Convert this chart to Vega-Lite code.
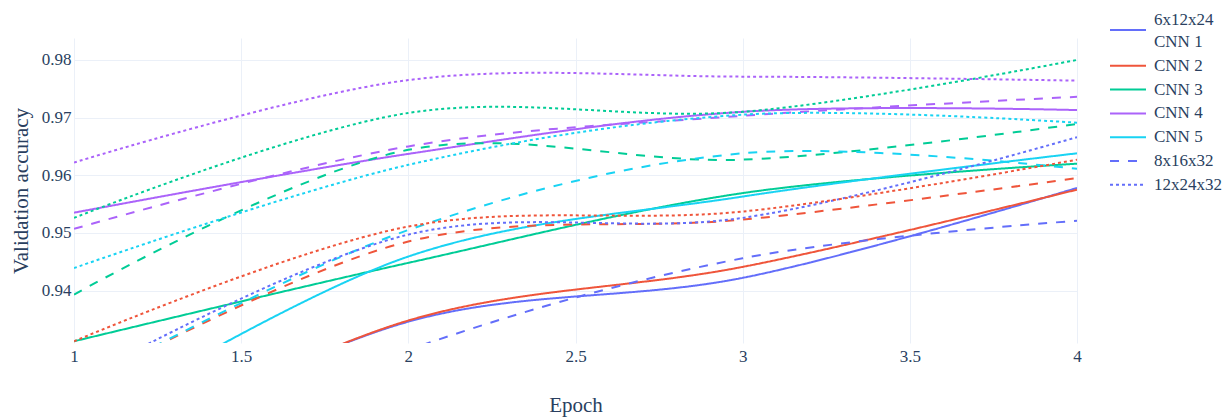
{
  "$schema": "https://vega.github.io/schema/vega-lite/v6.json",
  "autosize": "none",
  "width": 1003,
  "height": 305,
  "padding": {"left": 74, "top": 38, "right": 147, "bottom": 74},
  "background": "white",
  "config": {
    "view": {"stroke": null},
    "font": "Liberation Serif",
    "style": {"guide-label": {"lineHeight": 21.6}},
    "axis": {
      "labelFont": "Liberation Serif",
      "titleFont": "Liberation Serif",
      "labelColor": "#2a3f5f",
      "titleColor": "#2a3f5f",
      "labelFontSize": 17,
      "titleFontSize": 21,
      "titleFontWeight": "normal",
      "gridColor": "#EBF0F8",
      "gridWidth": 1,
      "domain": false,
      "ticks": false
    },
    "legend": {
      "labelFont": "Liberation Serif",
      "labelFontSize": 17,
      "labelColor": "#2a3f5f"
    }
  },
  "data": {
    "values": [
      {"series": "CNN 1 6x12x24", "epoch": 1, "acc": 0.909},
      {"series": "CNN 1 6x12x24", "epoch": 2, "acc": 0.9346},
      {"series": "CNN 1 6x12x24", "epoch": 3, "acc": 0.9422},
      {"series": "CNN 1 6x12x24", "epoch": 4, "acc": 0.9578},
      {"series": "CNN 2 6x12x24", "epoch": 1, "acc": 0.909},
      {"series": "CNN 2 6x12x24", "epoch": 2, "acc": 0.9348},
      {"series": "CNN 2 6x12x24", "epoch": 3, "acc": 0.9441},
      {"series": "CNN 2 6x12x24", "epoch": 4, "acc": 0.9575},
      {"series": "CNN 3 6x12x24", "epoch": 1, "acc": 0.9312},
      {"series": "CNN 3 6x12x24", "epoch": 2, "acc": 0.9448},
      {"series": "CNN 3 6x12x24", "epoch": 3, "acc": 0.9569},
      {"series": "CNN 3 6x12x24", "epoch": 4, "acc": 0.962},
      {"series": "CNN 4 6x12x24", "epoch": 1, "acc": 0.9535},
      {"series": "CNN 4 6x12x24", "epoch": 2, "acc": 0.9637},
      {"series": "CNN 4 6x12x24", "epoch": 3, "acc": 0.971},
      {"series": "CNN 4 6x12x24", "epoch": 4, "acc": 0.9713},
      {"series": "CNN 5 6x12x24", "epoch": 1, "acc": 0.916},
      {"series": "CNN 5 6x12x24", "epoch": 2, "acc": 0.9459},
      {"series": "CNN 5 6x12x24", "epoch": 3, "acc": 0.9563},
      {"series": "CNN 5 6x12x24", "epoch": 4, "acc": 0.9638},
      {"series": "CNN 1 8x16x32", "epoch": 1, "acc": 0.905},
      {"series": "CNN 1 8x16x32", "epoch": 2, "acc": 0.9297},
      {"series": "CNN 1 8x16x32", "epoch": 3, "acc": 0.9456},
      {"series": "CNN 1 8x16x32", "epoch": 4, "acc": 0.9521},
      {"series": "CNN 2 8x16x32", "epoch": 1, "acc": 0.923},
      {"series": "CNN 2 8x16x32", "epoch": 2, "acc": 0.9485},
      {"series": "CNN 2 8x16x32", "epoch": 3, "acc": 0.9523},
      {"series": "CNN 2 8x16x32", "epoch": 4, "acc": 0.9595},
      {"series": "CNN 3 8x16x32", "epoch": 1, "acc": 0.9393},
      {"series": "CNN 3 8x16x32", "epoch": 2, "acc": 0.9644},
      {"series": "CNN 3 8x16x32", "epoch": 3, "acc": 0.9627},
      {"series": "CNN 3 8x16x32", "epoch": 4, "acc": 0.9689},
      {"series": "CNN 4 8x16x32", "epoch": 1, "acc": 0.9507},
      {"series": "CNN 4 8x16x32", "epoch": 2, "acc": 0.965},
      {"series": "CNN 4 8x16x32", "epoch": 3, "acc": 0.9703},
      {"series": "CNN 4 8x16x32", "epoch": 4, "acc": 0.9736},
      {"series": "CNN 5 8x16x32", "epoch": 1, "acc": 0.923},
      {"series": "CNN 5 8x16x32", "epoch": 2, "acc": 0.9505},
      {"series": "CNN 5 8x16x32", "epoch": 3, "acc": 0.9638},
      {"series": "CNN 5 8x16x32", "epoch": 4, "acc": 0.9611},
      {"series": "CNN 1 12x24x32", "epoch": 1, "acc": 0.924},
      {"series": "CNN 1 12x24x32", "epoch": 2, "acc": 0.9497},
      {"series": "CNN 1 12x24x32", "epoch": 3, "acc": 0.9526},
      {"series": "CNN 1 12x24x32", "epoch": 4, "acc": 0.9666},
      {"series": "CNN 2 12x24x32", "epoch": 1, "acc": 0.9312},
      {"series": "CNN 2 12x24x32", "epoch": 2, "acc": 0.9511},
      {"series": "CNN 2 12x24x32", "epoch": 3, "acc": 0.9537},
      {"series": "CNN 2 12x24x32", "epoch": 4, "acc": 0.9627},
      {"series": "CNN 3 12x24x32", "epoch": 1, "acc": 0.9526},
      {"series": "CNN 3 12x24x32", "epoch": 2, "acc": 0.9708},
      {"series": "CNN 3 12x24x32", "epoch": 3, "acc": 0.971},
      {"series": "CNN 3 12x24x32", "epoch": 4, "acc": 0.98},
      {"series": "CNN 4 12x24x32", "epoch": 1, "acc": 0.9622},
      {"series": "CNN 4 12x24x32", "epoch": 2, "acc": 0.9765},
      {"series": "CNN 4 12x24x32", "epoch": 3, "acc": 0.9771},
      {"series": "CNN 4 12x24x32", "epoch": 4, "acc": 0.9764},
      {"series": "CNN 5 12x24x32", "epoch": 1, "acc": 0.9439},
      {"series": "CNN 5 12x24x32", "epoch": 2, "acc": 0.9618},
      {"series": "CNN 5 12x24x32", "epoch": 3, "acc": 0.9705},
      {"series": "CNN 5 12x24x32", "epoch": 4, "acc": 0.9691}
    ]
  },
  "mark": {"type": "line", "interpolate": "catmull-rom", "strokeWidth": 2, "clip": true},
  "encoding": {
    "x": {
      "field": "epoch",
      "type": "quantitative",
      "scale": {"domain": [1, 4], "nice": false, "zero": false},
      "axis": {
        "title": "Epoch",
        "values": [1, 1.5, 2, 2.5, 3, 3.5, 4],
        "format": "~g",
        "labelPadding": 5,
        "titlePadding": 30,
        "labelFlush": false
      }
    },
    "y": {
      "field": "acc",
      "type": "quantitative",
      "scale": {"domain": [0.9309, 0.9838], "nice": false, "zero": false},
      "axis": {
        "title": "Validation accuracy",
        "values": [0.94, 0.95, 0.96, 0.97, 0.98],
        "format": ".2f",
        "labelPadding": 3,
        "titlePadding": 10
      }
    },
    "color": {
      "field": "series",
      "type": "nominal",
      "scale": {
        "domain": [
          "CNN 1 6x12x24", "CNN 2 6x12x24", "CNN 3 6x12x24", "CNN 4 6x12x24", "CNN 5 6x12x24",
          "CNN 1 8x16x32", "CNN 2 8x16x32", "CNN 3 8x16x32", "CNN 4 8x16x32", "CNN 5 8x16x32",
          "CNN 1 12x24x32", "CNN 2 12x24x32", "CNN 3 12x24x32", "CNN 4 12x24x32", "CNN 5 12x24x32"
        ],
        "range": [
          "#636efa", "#EF553B", "#00cc96", "#ab63fa", "#19d3f3",
          "#636efa", "#EF553B", "#00cc96", "#ab63fa", "#19d3f3",
          "#636efa", "#EF553B", "#00cc96", "#ab63fa", "#19d3f3"
        ]
      },
      "legend": {
        "title": null,
        "orient": "none",
        "legendX": 1043,
        "legendY": -19,
        "symbolType": "M-1.8,0H1.8",
        "symbolSize": 400,
        "symbolStrokeWidth": 2,
        "labelOffset": 15,
        "rowPadding": 4.8,
        "values": ["CNN 1 6x12x24", "CNN 2 6x12x24", "CNN 3 6x12x24", "CNN 4 6x12x24", "CNN 5 6x12x24", "CNN 1 8x16x32", "CNN 1 12x24x32"],
        "labelExpr": "datum.value == 'CNN 1 6x12x24' ? ['6x12x24', 'CNN 1'] : datum.value == 'CNN 1 8x16x32' ? '8x16x32' : datum.value == 'CNN 1 12x24x32' ? '12x24x32' : slice(datum.value, 0, 5)",
        "encoding": {
          "labels": {
            "dy": {"condition": {"test": "datum.value === 'CNN 1 6x12x24'", "value": -10}, "value": 0}
          }
        }
      }
    },
    "strokeDash": {
      "field": "series",
      "type": "nominal",
      "scale": {
        "domain": [
          "CNN 1 6x12x24", "CNN 2 6x12x24", "CNN 3 6x12x24", "CNN 4 6x12x24", "CNN 5 6x12x24",
          "CNN 1 8x16x32", "CNN 2 8x16x32", "CNN 3 8x16x32", "CNN 4 8x16x32", "CNN 5 8x16x32",
          "CNN 1 12x24x32", "CNN 2 12x24x32", "CNN 3 12x24x32", "CNN 4 12x24x32", "CNN 5 12x24x32"
        ],
        "range": [
          [1, 0], [1, 0], [1, 0], [1, 0], [1, 0],
          [9, 9], [9, 9], [9, 9], [9, 9], [9, 9],
          [3, 3], [3, 3], [3, 3], [3, 3], [3, 3]
        ]
      },
      "legend": {
        "title": null,
        "orient": "none",
        "legendX": 1043,
        "legendY": -19,
        "symbolType": "M-1.8,0H1.8",
        "symbolSize": 400,
        "symbolStrokeWidth": 2,
        "labelOffset": 15,
        "rowPadding": 4.8,
        "values": ["CNN 1 6x12x24", "CNN 2 6x12x24", "CNN 3 6x12x24", "CNN 4 6x12x24", "CNN 5 6x12x24", "CNN 1 8x16x32", "CNN 1 12x24x32"],
        "labelExpr": "datum.value == 'CNN 1 6x12x24' ? ['6x12x24', 'CNN 1'] : datum.value == 'CNN 1 8x16x32' ? '8x16x32' : datum.value == 'CNN 1 12x24x32' ? '12x24x32' : slice(datum.value, 0, 5)",
        "encoding": {
          "labels": {
            "dy": {"condition": {"test": "datum.value === 'CNN 1 6x12x24'", "value": -10}, "value": 0}
          }
        }
      }
    }
  }
}
